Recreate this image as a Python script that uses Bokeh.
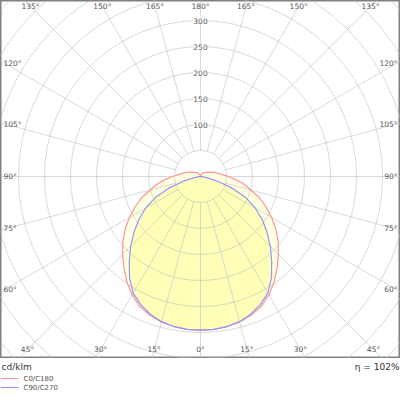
import numpy as np
from bokeh.plotting import figure
from bokeh.layouts import column
from bokeh.models import Range1d
from bokeh.embed import file_html
from bokeh.resources import INLINE
from bokeh.core.properties import value

# ---------------- data (cd/klm) ----------------
gamma = [0, 5, 10, 15, 20, 25, 30, 35, 40, 45, 50, 55, 60, 65, 70, 75, 80, 85, 90,
         95, 100, 105, 110, 115, 120, 125, 130, 135, 140, 145, 150, 155, 160, 165, 170, 175, 180]
c0_c180 = [295, 295, 293, 290, 284, 276, 263, 247, 229, 212, 195, 177, 158, 139, 121, 100, 85, 68, 54,
           42, 35, 30, 25, 20, 16, 14, 12, 10, 9, 8, 6, 5, 4, 3, 2, 1, 0]
c90_c270 = [296, 295, 293, 289, 282, 272, 259, 238, 213, 190, 167, 145, 122, 96, 64, 32, 12, 3, 0,
            0, 0, 0, 0, 0, 0, 0, 0, 0, 0, 0, 0, 0, 0, 0, 0, 0, 0]
grid_radii = [50, 100, 150, 200, 250, 300, 350, 400, 450, 500, 550]
radius_labels = [100, 150, 200, 250, 300]
label_angles = [0, 15, 30, 45, 60, 75, 90, 105, 120, 135, 150, 165, 180]
spoke_angles = list(range(0, 360, 15))
series_names = ["C0/C180", "C90/C270"]
series_colors = ["#ff9494", "#9494ff"]
unit_text = "cd/klm"
eta_text = "η = 102%"

# ---------------- layout ----------------
PX = 0.52            # pixels per cd/klm
W, H = 400, 358
CX, CY = 200, 176    # polar centre, px from top-left of frame
FONT = value("DejaVu Sans")
LABEL_COLOR = "#555555"

p = figure(width=W, height=H, output_backend="svg", toolbar_location=None,
           x_range=Range1d(-CX / PX, (W - CX) / PX),
           y_range=Range1d(-(H - CY) / PX, CY / PX),
           x_axis_type=None, y_axis_type=None, min_border=0)
p.grid.visible = False
p.outline_line_color = "#808080"
p.outline_line_width = 2
p.background_fill_color = "white"


def outline(vals):
    th = np.radians(np.array(gamma, dtype=float))
    r = np.array(vals, dtype=float)
    xs = np.concatenate([-(r * np.sin(th))[::-1], r * np.sin(th)])
    ys = np.concatenate([-(r * np.cos(th))[::-1], -r * np.cos(th)])
    return xs, ys


rx, ry = outline(c0_c180)
bx, by = outline(c90_c270)
p.patch(rx, ry, fill_color="#ffffe2", line_color=None)
p.patch(bx, by, fill_color="#fefeb6", line_color=None)

# grid
GRID = dict(line_color="#c0c0c0", line_alpha=0.6, line_width=1)
p.circle(x=[0] * len(grid_radii), y=[0] * len(grid_radii), radius=grid_radii,
         fill_color=None, **GRID)
sa = np.radians(np.array(spoke_angles, dtype=float))
r0, r1 = grid_radii[0], 2000
p.segment(x0=r0 * np.sin(sa), y0=-r0 * np.cos(sa), x1=r1 * np.sin(sa), y1=-r1 * np.cos(sa), **GRID)

# curves
p.line(rx, ry, line_color=series_colors[0], line_width=1.2)
p.line(bx, by, line_color=series_colors[1], line_width=1.2)

# radius labels
p.text(x=[0] * len(radius_labels), y=radius_labels, text=[str(v) for v in radius_labels],
       text_align="center", text_baseline="middle", text_font=FONT, text_font_size="7.5px",
       text_color=LABEL_COLOR, background_fill_color="white")

# angle labels on the frame
D_TOP, D_BOT, D_SIDE = 170, 173, 195
c_x, c_y, c_t = [], [], []
l_x, l_y, l_t = [], [], []
r_x, r_y, r_t = [], [], []
for a in label_angles:
    th = np.radians(a)
    c, sn = np.cos(th), np.sin(th)
    if c > 1e-9:
        t_v = D_BOT / c
    elif c < -1e-9:
        t_v = D_TOP / -c
    else:
        t_v = np.inf
    t_s = D_SIDE / sn if sn > 1e-9 else np.inf
    lab = f"{a}°"
    for s in ([1] if a in (0, 180) else [-1, 1]):
        if t_v <= t_s:
            c_x.append(s * t_v * sn / PX)
            c_y.append(-t_v * c / PX)
            c_t.append(lab)
        else:
            yy = -t_s * c / PX
            if s < 0:
                l_x.append((3 - CX) / PX); l_y.append(yy); l_t.append(lab)
            else:
                r_x.append((W - 3 - CX) / PX); r_y.append(yy); r_t.append(lab)

common = dict(text_baseline="middle", text_font=FONT, text_font_size="7.5px", text_color=LABEL_COLOR)
p.text(x=c_x, y=c_y, text=c_t, text_align="center", **common)
p.text(x=l_x, y=l_y, text=l_t, text_align="left", **common)
p.text(x=r_x, y=r_y, text=r_t, text_align="right", **common)

# ---------------- legend strip ----------------
LH = 33
lg = figure(width=W, height=LH, output_backend="svg", toolbar_location=None,
            x_range=Range1d(0, W), y_range=Range1d(LH, 0),
            x_axis_type=None, y_axis_type=None, min_border=0)
lg.grid.visible = False
lg.outline_line_color = None
lg.text(x=[1], y=[8], text=[unit_text], text_align="left", text_baseline="middle",
        text_font=FONT, text_font_size="9px", text_color="#333333")
lg.text(x=[399], y=[8], text=[eta_text], text_align="right", text_baseline="middle",
        text_font=FONT, text_font_size="9px", text_color="#333333")
lg.segment(x0=[0, 0], y0=[20, 29], x1=[18, 18], y1=[20, 29], line_color=series_colors, line_width=1)
lg.text(x=[23, 23], y=[20, 29], text=series_names, text_align="left", text_baseline="middle",
        text_font=FONT, text_font_size="7px", text_color=LABEL_COLOR)

layout = column(p, lg, spacing=0)
open("out.html", "w").write(file_html(layout, INLINE))
